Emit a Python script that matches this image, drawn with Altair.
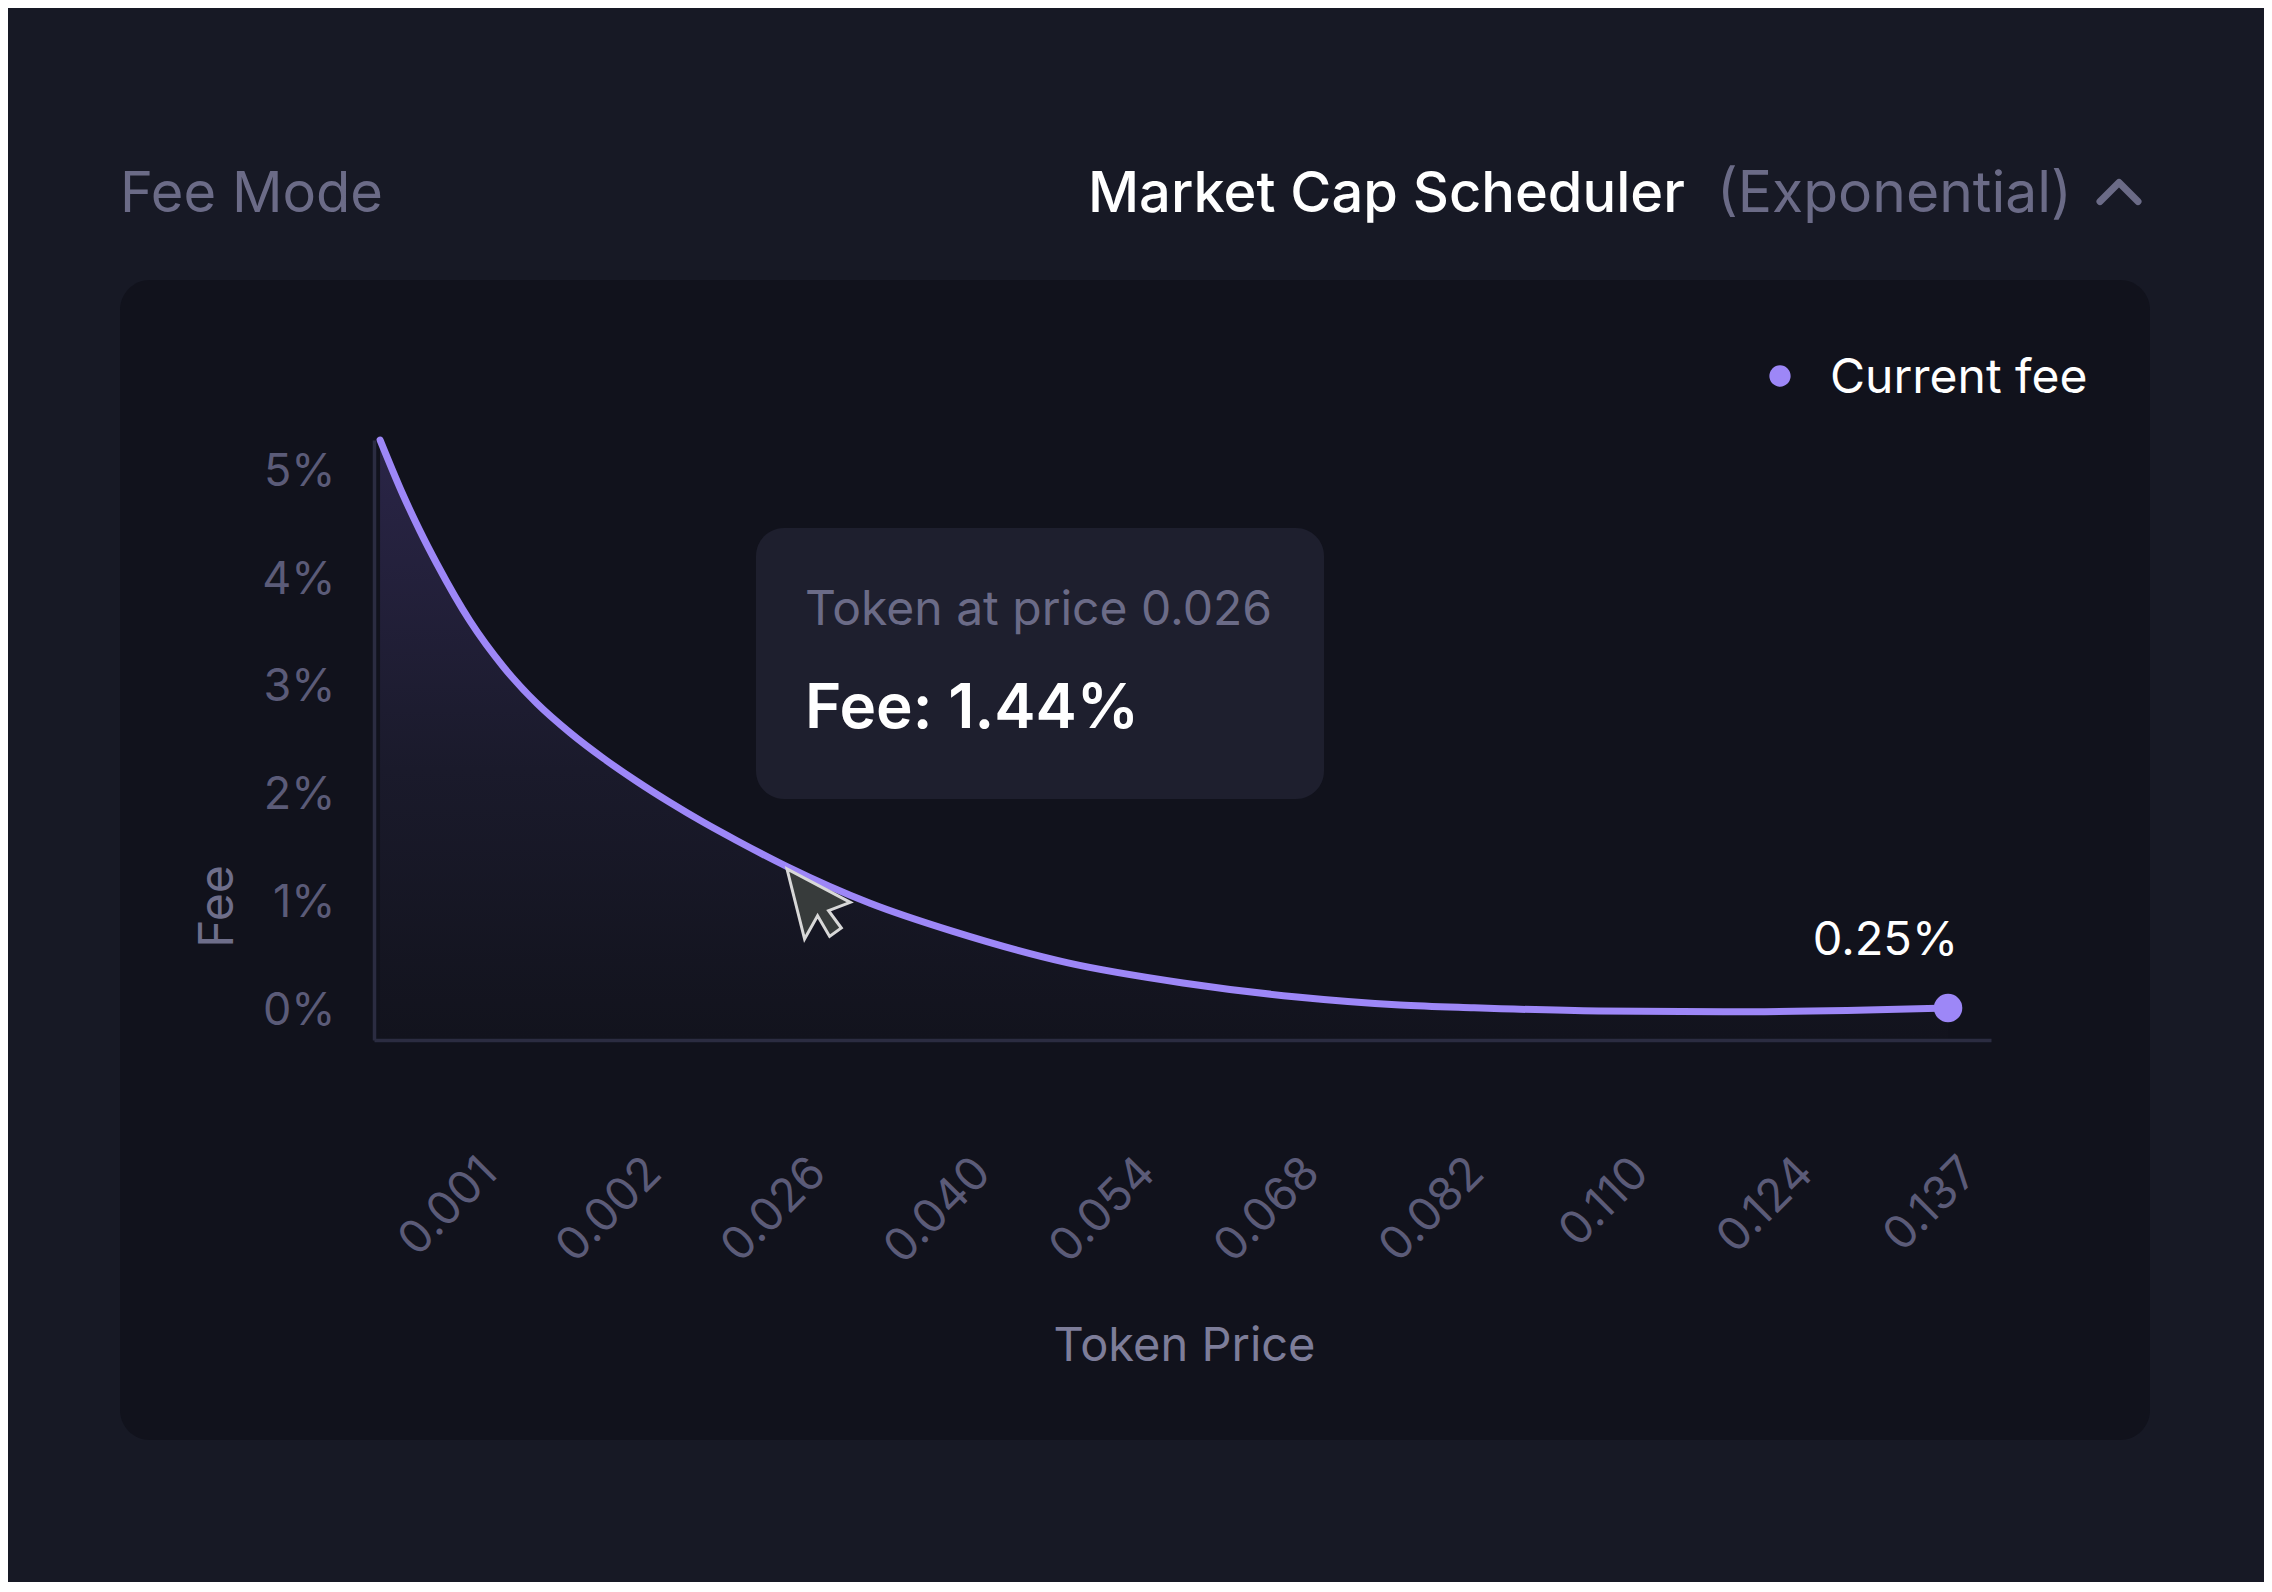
import altair as alt
import pandas as pd

# ---- data ----
price_pos = [-0.632, -0.492, -0.389, -0.286, -0.085, 0.116, 0.322, 0.523, 0.723, 0.930,
             1.131, 1.331, 1.538, 1.842, 2.347, 2.851, 3.550, 4.249, 4.942, 5.568,
             6.018, 6.778, 7.532, 8.286, 8.900]
fee_pct = [5.29, 4.78, 4.445, 4.14, 3.61, 3.19, 2.846, 2.575, 2.341, 2.123,
           1.928, 1.747, 1.574, 1.334, 0.994, 0.733, 0.441, 0.255, 0.125, 0.051,
           0.025, -0.005, -0.012, 0.0, 0.023]
tick_labels = ["0.001", "0.002", "0.026", "0.040", "0.054", "0.068", "0.082", "0.110", "0.124", "0.137"]
tick_pos = list(range(len(tick_labels)))
y_ticks = [0, 1, 2, 3, 4, 5]
current_fee_label = "0.25%"
tooltip_price = "0.026"
tooltip_fee = "1.44%"

X_DOMAIN = [-0.669, 9.161]
Y_DOMAIN = [-0.274, 5.29]
W, H = 1617, 600

PURPLE = "#9d87f7"
GRAY = "#6b6b87"
LABEL_GRAY = "#5b5b78"
FONT = "Inter"

curve = pd.DataFrame({"pos": price_pos, "fee": fee_pct})
last = curve.tail(1)
one = pd.DataFrame({"k": [0]})

label_expr = "[" + ",".join("'%s'" % s for s in tick_labels) + "][datum.value]"

x_enc = alt.X(
    "pos:Q",
    scale=alt.Scale(domain=X_DOMAIN, nice=False, zero=False),
    axis=alt.Axis(
        values=tick_pos, labelExpr=label_expr, labelAngle=-45, labelAlign="right",
        labelBaseline="middle", labelPadding=125, labelOffset=5, ticks=False, tickSize=0,
        labelFontSize=46, labelColor=LABEL_GRAY, labelFont=FONT, labelOverlap=False,
        labelFlush=False, grid=False, domainColor="#2b2c41", domainWidth=3.5,
        title="Token Price", titleFontSize=47, titleColor="#7d7d99", titleFont=FONT,
        titleFontWeight="normal", titleX=810, titleY=320, titleAlign="center",
        titleBaseline="alphabetic", zindex=1,
    ),
)
y_enc = alt.Y(
    "fee:Q",
    scale=alt.Scale(domain=Y_DOMAIN, nice=False, zero=False),
    axis=alt.Axis(
        values=y_ticks, labelExpr="datum.value + '%'", labelPadding=39, ticks=False,
        tickSize=0, labelFontSize=45, labelColor=LABEL_GRAY, labelFont=FONT,
        labelAlign="right", labelBaseline="middle", labelOverlap=False, labelFlush=False,
        grid=False, domainColor="#2b2c41", domainWidth=3.5,
        title="Fee", titleX=-142, titleY=466, titleAlign="center", titleBaseline="alphabetic",
        titleFontSize=48, titleColor="#6e6e8a", titleFont=FONT, titleFontWeight="normal",
        zindex=1,
    ),
)

gradient = alt.Gradient(
    gradient="linear",
    stops=[alt.GradientStop(color="#2a2547", offset=0),
           alt.GradientStop(color="#1a1a2b", offset=0.55),
           alt.GradientStop(color="#12131d", offset=1)],
    x1=0, x2=0, y1=0, y2=1,
)


def txt(s, x, y, size, color, weight="normal", align="left", baseline="alphabetic"):
    return alt.Chart(one).mark_text(
        text=s, fontSize=size, color=color, fontWeight=weight, font=FONT,
        align=align, baseline=baseline,
    ).encode(x=alt.value(x), y=alt.value(y))


panel = alt.Chart(one).mark_rect(fill="#11121c", cornerRadius=30).encode(
    x=alt.value(-254), x2=alt.value(1776), y=alt.value(-160), y2=alt.value(1000))
tip_box = alt.Chart(one).mark_rect(fill="#1e1f2e", cornerRadius=28).encode(
    x=alt.value(382), x2=alt.value(950), y=alt.value(88), y2=alt.value(359))

area = alt.Chart(curve).mark_area(color=gradient, interpolate="monotone").encode(
    x=x_enc, y=y_enc, y2=alt.Y2Datum(Y_DOMAIN[0]))
line = alt.Chart(curve).mark_line(color=PURPLE, strokeWidth=7, interpolate="monotone",
                                  strokeCap="round").encode(x="pos:Q", y="fee:Q")
end_dot = alt.Chart(last).mark_circle(size=810, color=PURPLE, opacity=1).encode(
    x="pos:Q", y="fee:Q")
end_label = alt.Chart(last).mark_text(
    text=current_fee_label, align="right", baseline="alphabetic", dx=10, dy=-53,
    fontSize=47, color="#ffffff", font=FONT).encode(x="pos:Q", y="fee:Q")

legend_dot = alt.Chart(one).mark_circle(size=452, color=PURPLE, opacity=1).encode(
    x=alt.value(1406), y=alt.value(-64))
chevron = alt.Chart(one).mark_point(
    shape="M-1,0.5L0,-0.5L1,0.5", filled=False, size=1444, stroke=GRAY, strokeWidth=7,
    strokeCap="round", strokeJoin="round", opacity=1).encode(
    x=alt.value(1745), y=alt.value(-248))
cursor_path = "M0,0L0.251,1L0.437,0.667L0.609,0.963L0.776,0.843L0.594,0.596L0.904,0.477Z"
cursor = alt.Chart(one).mark_point(
    shape=cursor_path, filled=True, size=19600, fill="#373b3b", stroke="#d8d8d8",
    strokeWidth=3, opacity=1, fillOpacity=1, strokeOpacity=1, strokeJoin="miter").encode(
    x=alt.value(413), y=alt.value(429))

chart = alt.layer(
    panel, tip_box, area, line, end_dot, end_label,
    txt("Fee Mode", -254, -228, 56, GRAY),
    txt("Market Cap Scheduler", 714, -228, 56, "#ffffff", weight=500),
    txt("(Exponential)", 1343, -228, 57, GRAY),
    chevron, legend_dot,
    txt("Current fee", 1456, -47, 48, "#ffffff"),
    txt("Token at price " + tooltip_price, 431, 185, 48, GRAY),
    txt("Fee: " + tooltip_fee, 431, 288, 62, "#ffffff", weight=600),
    cursor,
).properties(
    width=W, height=H,
    autosize=alt.AutoSizeParams(type="none"),
    padding={"left": 366, "top": 432, "right": 273, "bottom": 542},
).configure(background="#171925").configure_view(stroke=None)

chart.save("out.html", embed_options={"renderer": "svg", "actions": False})
